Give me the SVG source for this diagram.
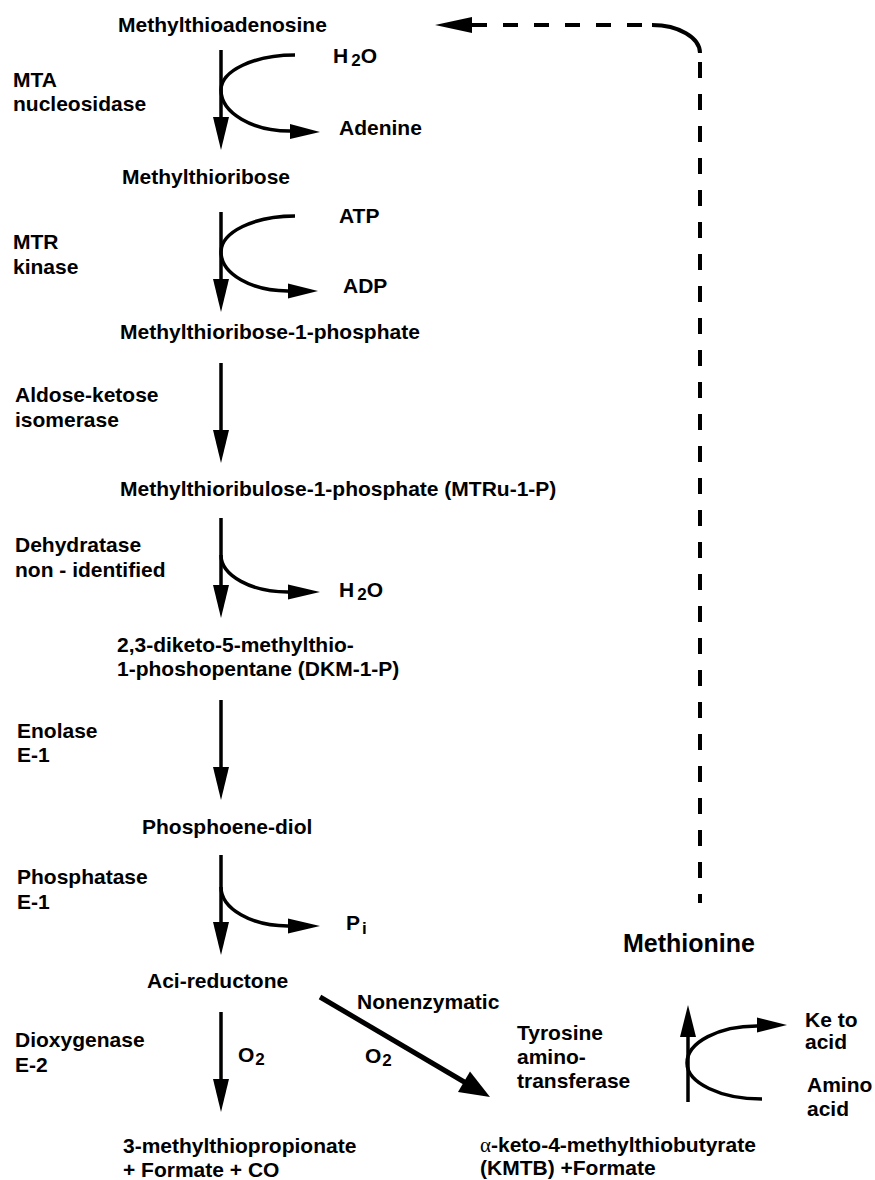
<svg xmlns="http://www.w3.org/2000/svg" width="875" height="1180" viewBox="0 0 875 1180">
<style>
  .t { font-family: "Liberation Sans", Arial, Helvetica, sans-serif; font-weight: bold; font-size: 21px; fill: #000; }
  .big { font-size: 25px; }
  .sub { font-size: 17px; }
  .greek { font-family: "Liberation Serif", "Times New Roman", serif; font-weight: normal; }
  .ln { stroke: #000; stroke-width: 3.5; fill: none; }
  .thick { stroke: #000; stroke-width: 5; fill: none; }
  .dash { stroke: #000; stroke-width: 4; fill: none; stroke-dasharray: 16 16; }
  .head { fill: #000; stroke: none; }
</style>
<rect x="0" y="0" width="875" height="1180" fill="#fff"/>

<g id="connectors">
  <!-- MTA -> MTR -->
  <line class="ln" x1="221" y1="50" x2="221" y2="125"/>
  <polygon class="head" points="221,150 213,117 229,117"/>
  <path class="ln" d="M295,55 A74,35 0 0 0 221,90 A69,41 0 0 0 291,131"/>
  <polygon class="head" points="320,132 290,124 290,139"/>
  <!-- MTR -> MTR-1-P -->
  <line class="ln" x1="221" y1="212" x2="221" y2="287"/>
  <polygon class="head" points="221,312 213,279 229,279"/>
  <path class="ln" d="M295,216 A74,36 0 0 0 221,252 A67,39 0 0 0 289,291"/>
  <polygon class="head" points="318,291 288,283.5 288,298.5"/>
  <!-- MTR-1-P -> MTRu-1-P -->
  <line class="ln" x1="221" y1="363" x2="221" y2="438"/>
  <polygon class="head" points="221,463 213,430 229,430"/>
  <!-- MTRu-1-P -> DKM-1-P -->
  <line class="ln" x1="221" y1="518" x2="221" y2="593"/>
  <polygon class="head" points="221,618 213,585 229,585"/>
  <path class="ln" d="M221,555 A67,37 0 0 0 289,592"/>
  <polygon class="head" points="320,592 288,584.5 288,599.5"/>
  <!-- DKM-1-P -> Phosphoene-diol -->
  <line class="ln" x1="221" y1="700" x2="221" y2="775"/>
  <polygon class="head" points="221,800 213,767 229,767"/>
  <!-- Phosphoene-diol -> Aci-reductone -->
  <line class="ln" x1="221" y1="855" x2="221" y2="930"/>
  <polygon class="head" points="221,955 213,922 229,922"/>
  <path class="ln" d="M221,887 A67,39 0 0 0 289,926"/>
  <polygon class="head" points="320,926 288,918.5 288,933.5"/>
  <!-- Aci-reductone -> 3-methylthiopropionate -->
  <line class="ln" x1="221" y1="1012" x2="221" y2="1087"/>
  <polygon class="head" points="221,1112 213,1079 229,1079"/>
  <!-- Aci-reductone -> KMTB (nonenzymatic) -->
  <line class="thick" x1="320" y1="997" x2="466" y2="1083"/>
  <polygon class="head" points="490,1097 458,1092 470,1071.5"/>
  <!-- KMTB -> Methionine (transamination) -->
  <line class="ln" x1="688" y1="1102" x2="688" y2="1030"/>
  <polygon class="head" points="688,1005 680,1037 696,1037"/>
  <path class="ln" d="M762,1099 A75,36 0 0 1 687,1063 A70,37 0 0 1 758,1026"/>
  <polygon class="head" points="787,1025 757,1017.5 757,1032.5"/>
  <!-- Methionine -> Methylthioadenosine (dashed recycle) -->
  <line class="dash" x1="700" y1="62" x2="700" y2="903"/>
  <path class="ln" style="stroke-width:4" d="M652,25 A48,28 0 0 1 700,53"/>
  <line class="dash" style="stroke-dasharray:15 16" x1="472" y1="25" x2="642" y2="25"/>
  <polygon class="head" points="435,25 472,17 472,33"/>
</g>

<g id="node-mta"><text class="t" x="118" y="32">Methylthioadenosine</text></g>
<g id="enz-mta-nucleosidase"><text class="t" x="13" y="87">MTA</text><text class="t" x="13" y="111">nucleosidase</text></g>
<g id="cof-h2o-1"><text class="t" x="333" y="63">H<tspan class="sub" dx="3" dy="3">2</tspan><tspan dy="-3">O</tspan></text></g>
<g id="cof-adenine"><text class="t" x="339" y="135">Adenine</text></g>

<g id="node-mtr"><text class="t" x="122" y="184">Methylthioribose</text></g>
<g id="enz-mtr-kinase"><text class="t" x="13" y="249">MTR</text><text class="t" x="13" y="274">kinase</text></g>
<g id="cof-atp"><text class="t" x="339" y="223">ATP</text></g>
<g id="cof-adp"><text class="t" x="343" y="293">ADP</text></g>

<g id="node-mtr1p"><text class="t" x="120" y="339">Methylthioribose-1-phosphate</text></g>
<g id="enz-isomerase"><text class="t" x="15" y="402">Aldose-ketose</text><text class="t" x="15" y="427">isomerase</text></g>

<g id="node-mtru1p"><text class="t" x="120" y="496">Methylthioribulose-1-phosphate (MTRu-1-P)</text></g>
<g id="enz-dehydratase"><text class="t" x="15" y="552">Dehydratase</text><text class="t" x="15" y="577">non - identified</text></g>
<g id="cof-h2o-2"><text class="t" x="339" y="597">H<tspan class="sub" dx="3" dy="3">2</tspan><tspan dy="-3">O</tspan></text></g>

<g id="node-dkm1p"><text class="t" x="117" y="652">2,3-diketo-5-methylthio-</text><text class="t" x="117" y="676">1-phoshopentane (DKM-1-P)</text></g>
<g id="enz-enolase"><text class="t" x="17" y="738">Enolase</text><text class="t" x="17" y="762">E-1</text></g>

<g id="node-phosphoene-diol"><text class="t" x="142" y="834">Phosphoene-diol</text></g>
<g id="enz-phosphatase"><text class="t" x="17" y="884">Phosphatase</text><text class="t" x="17" y="909">E-1</text></g>
<g id="cof-pi"><text class="t" x="346" y="930">P<tspan class="sub" dx="2" dy="4">i</tspan></text></g>

<g id="node-aci-reductone"><text class="t" x="147" y="988">Aci-reductone</text></g>
<g id="enz-dioxygenase"><text class="t" x="15" y="1047">Dioxygenase</text><text class="t" x="15" y="1072">E-2</text></g>
<g id="cof-o2-1"><text class="t" x="238" y="1062">O<tspan class="sub" dx="1" dy="3">2</tspan></text></g>

<g id="node-mtp"><text class="t" x="123" y="1153">3-methylthiopropionate</text><text class="t" x="123" y="1177">+ Formate + CO</text></g>

<g id="label-nonenzymatic"><text class="t" x="357" y="1009">Nonenzymatic</text></g>
<g id="cof-o2-2"><text class="t" x="365" y="1063">O<tspan class="sub" dx="1" dy="3">2</tspan></text></g>

<g id="node-kmtb"><text class="t" x="480" y="1152"><tspan class="greek">α</tspan>-keto-4-methylthiobutyrate</text><text class="t" x="480" y="1175">(KMTB) +Formate</text></g>
<g id="enz-tyrosine-aminotransferase"><text class="t" x="517" y="1040">Tyrosine</text><text class="t" x="517" y="1064">amino-</text><text class="t" x="517" y="1088">transferase</text></g>
<g id="cof-keto-acid"><text class="t" x="805" y="1027">Ke to</text><text class="t" x="805" y="1049">acid</text></g>
<g id="cof-amino-acid"><text class="t" x="807" y="1092">Amino</text><text class="t" x="807" y="1116">acid</text></g>

<g id="node-methionine"><text class="t big" x="623" y="952">Methionine</text></g>
</svg>
